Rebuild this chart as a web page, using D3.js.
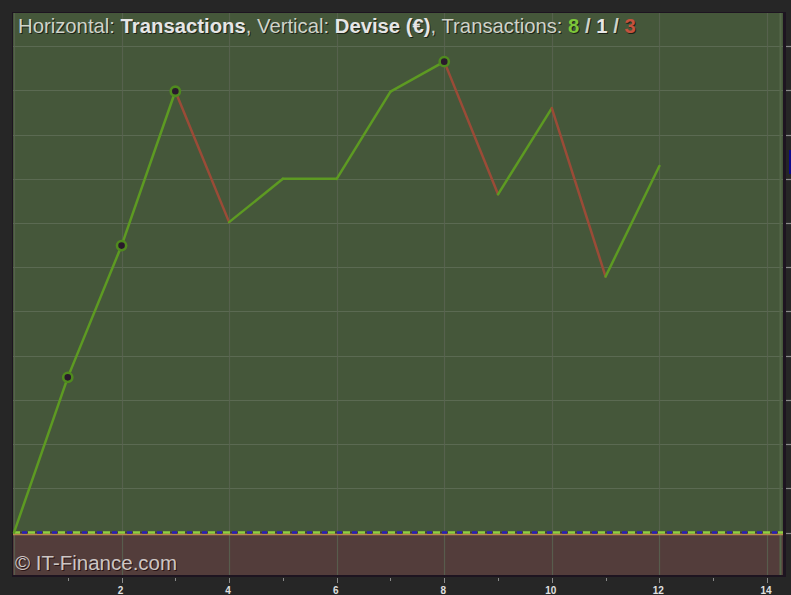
<!DOCTYPE html>
<html><head><meta charset="utf-8">
<script src="https://cdn.jsdelivr.net/npm/d3@7"></script>
<style>html,body{margin:0;padding:0;background:#262626;overflow:hidden}</style>
</head><body>
<svg id="c" width="791" height="595"></svg>
<script>
// ---- data ----
const trades = [0,1,2,3,4,5,6,7,8,9,10,11,12];
const equity = [0, 351, 649, 998, 702, 800, 800, 997, 1065, 765, 960, 579, 829];
const peakTrades = [1, 2, 3, 8];
const xTickLabels = [2, 4, 6, 8, 10, 12, 14];
const yGridValues = [100,200,300,400,500,600,700,800,900,1000,1100];
const counts = {up: 8, flat: 1, down: 3};

const svg = d3.select("#c");
const L = 13, R = 783, T = 13, B = 575;
const x = d3.scaleLinear().domain([0, 14.28]).range([14, 782]);
const y = d3.scaleLinear().domain([-96, 1175]).range([B, T]);

// background panels
svg.append("rect").attr("x",0).attr("y",0).attr("width",791).attr("height",595).attr("fill","#262626");
svg.append("rect").attr("x",L-1).attr("y",T-1).attr("width",R-L+4).attr("height",B-T+3).attr("fill","#1d1420");
svg.append("rect").attr("x",L).attr("y",T).attr("width",R-L).attr("height",y(0)-T).attr("fill","#45573a");
svg.append("rect").attr("x",L).attr("y",y(0)).attr("width",R-L).attr("height",B-y(0)).attr("fill","#533d3b");

// grid
const g = svg.append("g");
g.selectAll("line.h").data(yGridValues).join("line")
  .attr("x1",L).attr("x2",R).attr("y1",d=>Math.round(y(d))+0.5).attr("y2",d=>Math.round(y(d))+0.5)
  .attr("stroke","#5b6a52").attr("stroke-width",1.2);
g.selectAll("line.v").data([0].concat(xTickLabels)).join("line")
  .attr("x1",d=>Math.round(x(d))+0.5).attr("x2",d=>Math.round(x(d))+0.5).attr("y1",T).attr("y2",B)
  .attr("stroke","#5a6453").attr("stroke-opacity",0.8).attr("stroke-width",1.2);
// lighter right inner edge
svg.append("line").attr("x1",R-2.5).attr("x2",R-2.5).attr("y1",T).attr("y2",B)
  .attr("stroke","#56684a").attr("stroke-width",2);

// zero line (multicolour dashed)
const y0 = y(0);
svg.append("line").attr("x1",L).attr("x2",R).attr("y1",y0+2).attr("y2",y0+2)
  .attr("stroke","#b8864e").attr("stroke-width",1.5);
svg.append("line").attr("x1",L).attr("x2",R).attr("y1",y0).attr("y2",y0)
  .attr("stroke","#8fcf3f").attr("stroke-width",2.5).attr("stroke-dasharray","7,8");
svg.append("line").attr("x1",L).attr("x2",R).attr("y1",y0).attr("y2",y0)
  .attr("stroke","#2a1fb8").attr("stroke-width",2.5).attr("stroke-dasharray","5,10").attr("stroke-dashoffset",-9);

// equity segments
const segs = trades.slice(1).map((t,i)=>({x1:trades[i], y1:equity[i], x2:t, y2:equity[i+1]}));
svg.append("g").selectAll("line").data(segs).join("line")
  .attr("x1",d=>x(d.x1)).attr("y1",d=>y(d.y1)).attr("x2",d=>x(d.x2)).attr("y2",d=>y(d.y2))
  .attr("stroke",d=>d.y2 < d.y1 ? "#9a4b37" : "#5d9a22")
  .attr("stroke-width",2.5).attr("stroke-linecap","round");

// peak markers
svg.append("g").selectAll("circle").data(peakTrades).join("circle")
  .attr("cx",d=>x(d)).attr("cy",d=>y(equity[d])).attr("r",4.6)
  .attr("fill","#2a1a2c").attr("stroke","#4f8a1e").attr("stroke-width",2.6);

// x axis ticks (bottom)
svg.append("g").selectAll("line").data(d3.range(1,15)).join("line")
  .attr("x1",d=>Math.round(x(d))+0.5).attr("x2",d=>Math.round(x(d))+0.5)
  .attr("y1",578).attr("y2",d=>d%2===0?583:581)
  .attr("stroke","#8a8a8a").attr("stroke-width",1);
svg.append("g").selectAll("text").data(xTickLabels).join("text")
  .attr("x",d=>x(d)-1).attr("y",594).attr("text-anchor","middle")
  .attr("font-family","Liberation Sans, Arial, sans-serif").attr("font-size",10).attr("font-weight","bold")
  .attr("fill","#e0e0e0").text(d=>d);

// right axis ticks & current value marker
svg.append("rect").attr("x",R).attr("y",T-1).attr("width",3).attr("height",B-T+2).attr("fill","#1d1420");
svg.append("g").selectAll("line").data([0].concat(yGridValues)).join("line")
  .attr("x1",786).attr("x2",791).attr("y1",d=>Math.round(y(d))+0.5).attr("y2",d=>Math.round(y(d))+0.5)
  .attr("stroke","#8a8a8a").attr("stroke-width",1.2);
const last = equity[equity.length-1];
svg.append("rect").attr("x",789).attr("y",y(last)-16).attr("width",4).attr("height",24).attr("fill","#0d0a8a");

// title
const font = "Liberation Sans, Arial, Helvetica, sans-serif";
function title(gx, gy, shadow){
  const t = svg.append("text").attr("x",gx).attr("y",gy)
    .attr("font-family",font).attr("font-size",20.3);
  const parts = [
    ["Horizontal: ","normal","#cfd3ca"],["Transactions","bold","#e6e6e6"],[", Vertical: ","normal","#cfd3ca"],
    ["Devise (€)","bold","#e6e6e6"],[", Transactions: ","normal","#cfd3ca"],
    [String(counts.up),"bold","#7cc63a"],[" / ","bold","#cfd3ca"],[String(counts.flat),"bold","#e6e6e6"],
    [" / ","bold","#cfd3ca"],[String(counts.down),"bold","#c5523d"]];
  parts.forEach(p=>t.append("tspan").attr("font-weight",p[1]).attr("fill",shadow?"#1c2316":p[2]).text(p[0]));
  return t;
}
title(19, 34, true);
title(18, 33, false);

// watermark
svg.append("text").attr("x",16).attr("y",571).attr("font-family",font).attr("font-size",20.5)
  .attr("fill","#2a1414").text("© IT-Finance.com");
svg.append("text").attr("x",15).attr("y",570).attr("font-family",font).attr("font-size",20.5)
  .attr("fill","#cdc6c4").text("© IT-Finance.com");
</script>
</body></html>
